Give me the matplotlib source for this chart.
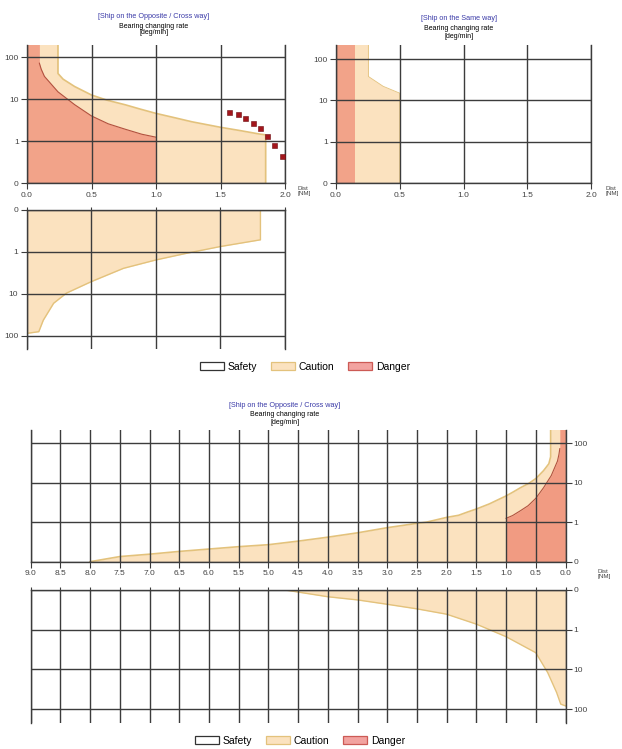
import numpy as np
import matplotlib
matplotlib.use("Agg")
import matplotlib.pyplot as plt
from matplotlib.patches import Patch

plt.rcParams['font.family'] = ['Liberation Sans', 'DejaVu Sans']

# --- data (distance in NM, bearing change rate in deg/min) ---
TOP = 300  # off the top of the scale

# opposite / cross way, 0-2 NM
danger_x = [0.0, 0.096, 0.096, 0.11, 0.135, 0.24, 0.37, 0.5, 0.63, 0.76, 0.89, 1.0, 1.0]
danger_rate = [TOP, TOP, 72, 52, 35, 15, 7.4, 4.0, 2.6, 1.94, 1.47, 1.25, 0]

caution_x = [0.0, 0.24, 0.24, 0.28, 0.37, 0.5, 0.62, 0.76, 0.88, 1.0, 1.15, 1.28,
             1.5, 1.65, 1.8, 1.85, 1.85]
caution_rate = [TOP, TOP, 41, 30, 20, 12.6, 9.5, 7.4, 5.8, 4.6, 3.6, 2.9,
                2.15, 1.8, 1.49, 1.42, 0]

target_x = [1.568, 1.633, 1.690, 1.750, 1.807, 1.859, 1.917, 1.974]
target_rate = [5.1, 4.4, 3.65, 2.77, 2.04, 1.36, 0.90, 0.66]

mirror_x = [0.0, 0.095, 0.13, 0.21, 0.31, 0.5, 0.75, 1.0, 1.24, 1.5, 1.81, 1.81]
mirror_rate = [87, 79, 42, 16.6, 9.5, 5.1, 2.45, 1.55, 1.07, 0.87, 0.71, 0]

# same way, 0-2 NM
same_danger_x = [0.0, 0.15]
same_danger_rate = [TOP, TOP]
same_caution_x = [0.0, 0.254, 0.254, 0.37, 0.5, 0.5]
same_caution_rate = [TOP, TOP, 38, 22, 15, 0]

# opposite / cross way, 0-9 NM
wide_caution_x = [0.0, 0.25, 0.25, 0.28, 0.37, 0.5, 0.62, 0.76, 0.88, 1.0, 1.15, 1.28,
                  1.5, 1.65, 1.8, 2.0, 2.34, 2.5, 3.0, 3.5, 4.0, 4.5, 5.0, 5.5,
                  6.0, 6.5, 7.0, 7.5, 8.0]
wide_caution_rate = [TOP, TOP, 45, 30, 20, 12.6, 9.5, 7.4, 5.8, 4.6, 3.6, 2.9,
                     2.15, 1.8, 1.49, 1.32, 1.0, 0.97, 0.86, 0.73, 0.62, 0.52, 0.43, 0.38,
                     0.32, 0.26, 0.19, 0.13, 0.0]
wide_mirror_x = [0.0, 0.08, 0.15, 0.3, 0.5, 1.0, 1.5, 2.0, 2.5, 3.0, 3.5, 4.0, 4.72]
wide_mirror_rate = [83, 75, 38, 12, 3.8, 1.5, 0.86, 0.61, 0.475, 0.36, 0.25, 0.17, 0.0]

rate_ticks = [0, 1, 10, 100]
legend_labels = ['Safety', 'Caution', 'Danger']

CAUTION = '#fbe2bf'
CAUTION_EDGE = '#e3c27c'
DANGER = '#ee7d68'
DANGER_EDGE = '#b2513f'
GRID = '#3c3c3c'

W, H = 622, 749


def fwd(y):
    y = np.asarray(y, float)
    return np.where(y <= 1, y, 1 + np.log10(np.maximum(y, 1)))


def inv(t):
    t = np.asarray(t, float)
    return np.where(t <= 1, t, 10 ** (t - 1))


def add_ax(fig, l, r, t, b):
    return fig.add_axes([l / W, 1 - b / H, (r - l) / W, (b - t) / H])


def style(ax, xticks, xlim, ytop, mirror=False, yright=False, xlabels=True):
    ax.set_yscale('function', functions=(fwd, inv))
    ax.set_xlim(*xlim)
    if mirror:
        ax.set_ylim(float(inv(ytop)), 0)
    else:
        ax.set_ylim(0, float(inv(ytop)))
    ax.set_xticks(xticks)
    ax.set_xticklabels(['%.1f' % v for v in xticks])
    ax.set_yticks(rate_ticks)
    ax.set_yticklabels([str(v) for v in rate_ticks])
    ax.grid(True, color=GRID, lw=1.0)
    ax.set_axisbelow(False)
    for s in ax.spines.values():
        s.set_color(GRID)
        s.set_linewidth(1.0)
    ax.spines['bottom' if mirror else 'top'].set_visible(False)
    ax.tick_params(direction='out', length=4, width=0.8, color=GRID,
                   labelsize=6, labelcolor='#444444', pad=2)
    if mirror:
        ax.tick_params(axis='x', top=True, bottom=False, labeltop=False,
                       labelbottom=False, length=2)
    elif not xlabels:
        ax.tick_params(axis='x', labelbottom=False)
    if yright:
        ax.yaxis.tick_right()
    ax.set_facecolor('white')


def draw_zone(ax, x, rate, color, edge, lw):
    ax.fill_between(x, 0, rate, color=color, lw=0, zorder=1)
    ax.plot(x, rate, color=edge, lw=lw, zorder=1.5)


def titles(fig, cx, y, head):
    fig.text(cx / W, 1 - y / H, head, color='#3b3ba8', fontsize=5.2,
             ha='center', va='center')
    fig.text(cx / W, 1 - (y + 10) / H, 'Bearing changing rate', fontsize=5,
             ha='center', va='center')
    fig.text(cx / W, 1 - (y + 17) / H, '[deg/min]', fontsize=5,
             ha='center', va='center')


def dist_label(fig, x, y):
    fig.text(x / W, 1 - y / H, 'Dist\n[NM]', fontsize=4.5, ha='left', va='center',
             color='#444444', linespacing=0.9)


def legend(fig, cx, cy):
    handles = [Patch(facecolor='white', edgecolor='#333333', lw=0.9),
               Patch(facecolor=CAUTION, edgecolor=CAUTION_EDGE, lw=0.9),
               Patch(facecolor='#f2a3a0', edgecolor='#cc5a55', lw=0.9)]
    fig.legend(handles, legend_labels, loc='center', bbox_to_anchor=(cx / W, 1 - cy / H),
               ncol=3, frameon=False, fontsize=7.5, handlelength=2.3, handleheight=0.8,
               columnspacing=1.3, handletextpad=0.4)


fig = plt.figure(figsize=(W / 100, H / 100), dpi=100)

# top left: opposite / cross way
ax1 = add_ax(fig, 27, 285, 45, 183.3)
style(ax1, [0, 0.5, 1.0, 1.5, 2.0], (0, 2), 3.29)
draw_zone(ax1, caution_x, caution_rate, CAUTION, CAUTION_EDGE, 1.2)
ax1.fill_between(danger_x, 0, danger_rate, color=DANGER, alpha=0.62, lw=0, zorder=1.2)
ax1.plot(danger_x[2:-1], danger_rate[2:-1], color=DANGER_EDGE, lw=0.8, zorder=1.5)
ax1.plot(target_x, target_rate, 's', color='#a3161c', ms=3.6, mec='#6d0c10', mew=0.4,
         ls='none', zorder=3, clip_on=False)
titles(fig, 154, 16, '[Ship on the Opposite / Cross way]')
dist_label(fig, 297, 191)

# top right: same way
ax2 = add_ax(fig, 336, 591, 45, 183.3)
style(ax2, [0, 0.5, 1.0, 1.5, 2.0], (0, 2), 3.34)
draw_zone(ax2, same_caution_x, same_caution_rate, CAUTION, CAUTION_EDGE, 0.6)
ax2.fill_between(same_danger_x, 0, same_danger_rate, color=DANGER, alpha=0.62, lw=0,
                 zorder=1.2)
titles(fig, 459, 19, '[Ship on the Same way]')
dist_label(fig, 605, 191)

# left mirror
ax3 = add_ax(fig, 26.5, 285, 210, 349)
style(ax3, [0, 0.5, 1.0, 1.5, 2.0], (0, 2), 3.31, mirror=True)
draw_zone(ax3, mirror_x, mirror_rate, CAUTION, CAUTION_EDGE, 1.0)

legend(fig, 305, 367)

# bottom: opposite / cross way, 0-9 NM
wide_ticks = [i * 0.5 for i in range(19)]
ax4 = add_ax(fig, 30.7, 565.5, 430, 561.7)
style(ax4, wide_ticks, (9, 0), 3.33, yright=True)
draw_zone(ax4, wide_caution_x, wide_caution_rate, CAUTION, CAUTION_EDGE, 1.2)
ax4.fill_between(danger_x, 0, danger_rate, color=DANGER, alpha=0.7, lw=0, zorder=1.2)
ax4.plot(danger_x[2:-1], danger_rate[2:-1], color=DANGER_EDGE, lw=0.8, zorder=1.5)
titles(fig, 285, 405, '[Ship on the Opposite / Cross way]')
dist_label(fig, 597, 574)

ax5 = add_ax(fig, 30.7, 565.5, 590, 723)
style(ax5, wide_ticks, (9, 0), 3.35, mirror=True, yright=True)
draw_zone(ax5, wide_mirror_x, wide_mirror_rate, CAUTION, CAUTION_EDGE, 1.0)

legend(fig, 300, 741)

fig.savefig('out.png', dpi=100, facecolor='white')
